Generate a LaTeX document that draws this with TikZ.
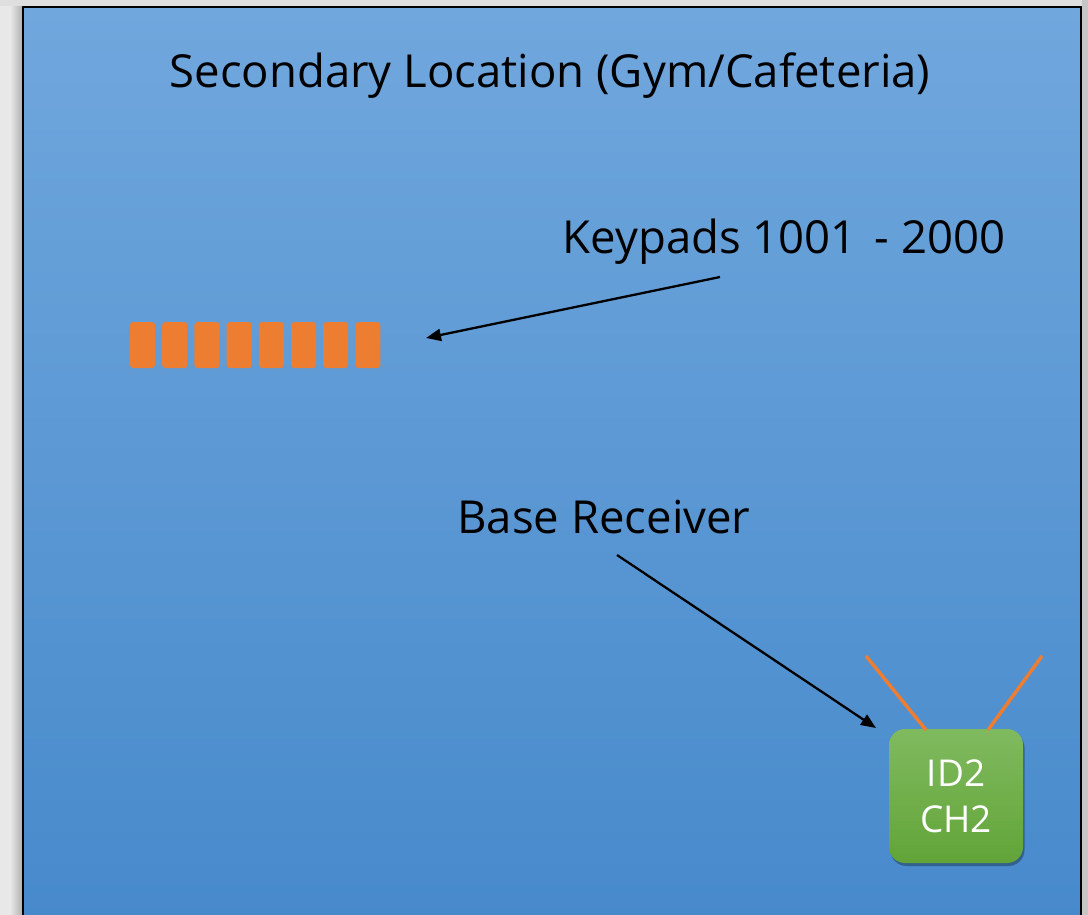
\documentclass[tikz,border=0pt]{standalone}
\usepackage{fontspec}
\setmainfont{Open Sans}
\usetikzlibrary{arrows.meta,shadows}
\definecolor{bgtop}{RGB}{112,167,221}
\definecolor{bgbot}{RGB}{70,137,203}
\definecolor{kp}{RGB}{237,125,49}
\definecolor{gtop}{RGB}{128,186,95}
\definecolor{gbot}{RGB}{98,164,56}
\definecolor{outside}{RGB}{232,232,232}
\begin{document}
\begin{tikzpicture}[x=1pt,y=-1pt,
  keypad/.style={fill=kp,minimum width=25pt,minimum height=46pt,rounded corners=3pt,inner sep=0pt},
  label/.style={anchor=base,inner sep=0pt,font=\fontsize{45.5}{54}\selectfont,text=black},
  receiver/.style={minimum width=134pt,minimum height=134pt,rounded corners=16pt,inner sep=0pt,
    top color=gtop,bottom color=gbot,text=white,align=center,
    font=\fontsize{37}{46}\selectfont,
    drop shadow={shadow xshift=1.5pt,shadow yshift=-3pt,opacity=0.3,fill=black}},
  pointer/.style={draw=black,line width=2.3pt,-{Triangle[length=15pt,width=12pt]}},
  antenna/.style={draw=kp,line width=3.5pt}]
\useasboundingbox (0,0) rectangle (1088,915);
% outside background
\fill[outside] (0,0) rectangle (1088,915);
\shade[left color=outside,right color=gray!60] (10,0) rectangle (22,915);
\fill[gray!25] (0,0) rectangle (1088,6);
\fill[gray!45] (1082,0) rectangle (1088,915);
% main area
\draw[line width=2pt,top color=bgtop,bottom color=bgbot] (23,7) rectangle (1081,940);
% texts
\node[label] (title) at (550,88) {Secondary Location (Gym/Cafeteria)};
\node[label] (kptext) at (784,253) {Keypads 1001\hspace{6pt} - 2000};
\node[label] (brtext) at (604,533) {Base Receiver};
% keypads
\foreach \i in {1,...,8}{
  \node[keypad] (k\i) at ({142.5+32.2*(\i-1)},345) {};
}
% receiver
\node[receiver] (rx) at (956,796) {ID2\\CH2};
\coordinate (a1b) at (926,730);
\coordinate (a1t) at (866,656);
\coordinate (a2b) at (988,730);
\coordinate (a2t) at (1042,656);
\draw[antenna] (a1b) -- (a1t);
\draw[antenna] (a2b) -- (a2t);
% arrows
\coordinate (kpfrom) at (720,277);
\coordinate (kpto) at (426,338);
\coordinate (brfrom) at (617,555);
\coordinate (brto) at (876,728);
\draw[pointer] (kpfrom) -- (kpto);
\draw[pointer] (brfrom) -- (brto);
\end{tikzpicture}
\end{document}
